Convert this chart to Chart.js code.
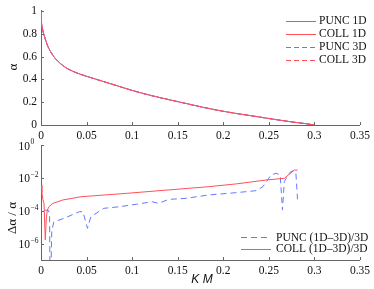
<!DOCTYPE html>
<html>
<head>
<meta charset="utf-8">
<script src="https://cdn.jsdelivr.net/npm/chart.js@4.4.0/dist/chart.umd.min.js"></script>
<style>
  body { margin: 0; background: #fff; width: 374px; height: 289px; overflow: hidden; position: relative; }
  canvas { position: absolute; left: 0; }
  #topChart { top: 0; }
  #botChart { top: 130px; }
</style>
</head>
<body>
<canvas id="topChart" width="374" height="145"></canvas>
<canvas id="botChart" width="374" height="159"></canvas>
<script>
/* eslint-disable no-undef */

const kmTop = [0, 0.0005, 0.001, 0.002, 0.004, 0.007, 0.01, 0.015, 0.02, 0.025, 0.03, 0.04, 0.05, 0.06, 0.075, 0.09, 0.1, 0.12, 0.15, 0.175, 0.2, 0.225, 0.25, 0.275, 0.29, 0.3]
const alphaValues = [0.99, 0.9, 0.87, 0.83, 0.77, 0.7, 0.65, 0.59, 0.548, 0.515, 0.49, 0.454, 0.427, 0.402, 0.365, 0.328, 0.303, 0.26, 0.205, 0.16, 0.12, 0.088, 0.057, 0.027, 0.012, 0.0]
const topLabels = ["PUNC 1D", "COLL 1D", "PUNC 3D", "COLL 3D"]

// Graphique du bas : écart relatif (1D-3D)/3D
const kmColl = [0, 0.001, 0.002, 0.0033, 0.0047, 0.0058, 0.0069, 0.009, 0.013, 0.024, 0.044, 0.0946, 0.184, 0.2145, 0.247, 0.267, 0.278, 0.2815]
const errColl = [3.7e-3, 1.3e-3, 5e-4, 2.8e-4, 1.7e-6, 3.2e-5, 1.1e-4, 1.8e-4, 2.8e-4, 4.5e-4, 7.1e-4, 1.15e-3, 2.9e-3, 4.3e-3, 7.4e-3, 9.3e-3, 3e-2, 2.95e-2]
const kmPunc = [0.004, 0.0084, 0.0094, 0.0099, 0.0108, 0.0118, 0.0141, 0.0257, 0.042, 0.046, 0.051, 0.0547, 0.069, 0.086, 0.105, 0.122, 0.129, 0.14, 0.158, 0.184, 0.2145, 0.236, 0.2435, 0.2525, 0.258, 0.2625, 0.265, 0.267, 0.273, 0.2768, 0.2797, 0.2815]
const errPunc = [1.1e-4, 1.05e-4, 5e-5, 1e-8, 1e-8, 6e-6, 2.1e-5, 3.5e-5, 8.7e-5, 8.7e-5, 8.5e-6, 4.3e-5, 1.4e-4, 1.75e-4, 2.5e-4, 3.5e-4, 2.8e-4, 4.9e-4, 5.6e-4, 9.1e-4, 1.26e-3, 1.66e-3, 2.9e-3, 1.5e-2, 1.9e-2, 1.5e-2, 1.1e-4, 5.9e-3, 2.1e-2, 2.75e-2, 2e-2, 5e-4]
const botLabels = ["PUNC (1D\u20133D)/3D", "COLL (1D\u20133D)/3D"]

const logTickValues = [1, 1e-2, 1e-4, 1e-6]
const logTickExponents = ["0", "\u22122", "\u22124", "\u22126"]

const BLUE = "rgb(100,120,255)"
const RED = "rgb(255,80,90)"
const SERIF = '"Liberation Serif", "Times New Roman", serif'

function points(xs, ys) {
  return xs.map((x, i) => ({ x: x, y: ys[i] }))
}

function fmtTick(v) {
  return String(Number(v.toFixed(2)))
}

// Petites graduations vers l'intérieur, façon MATLAB
function drawInwardTicks(chart) {
  const ctx = chart.ctx
  const a = chart.chartArea
  const sx = chart.scales.x
  const sy = chart.scales.y
  ctx.save()
  ctx.strokeStyle = "#666"
  ctx.lineWidth = 1
  sx.ticks.forEach((t) => {
    const px = Math.round(sx.getPixelForValue(t.value)) + 0.5
    ctx.beginPath()
    ctx.moveTo(px, a.bottom)
    ctx.lineTo(px, a.bottom - 3)
    ctx.stroke()
  })
  sy.ticks.forEach((t) => {
    const py = Math.round(sy.getPixelForValue(t.value)) + 0.5
    ctx.beginPath()
    ctx.moveTo(a.left, py)
    ctx.lineTo(a.left + 3, py)
    ctx.stroke()
  })
  ctx.restore()
}

function drawLegend(chart, x0, x1, xt, ys) {
  const ctx = chart.ctx
  ctx.save()
  ctx.font = "11.5px " + SERIF
  ctx.textBaseline = "middle"
  ctx.fillStyle = "#111"
  chart.data.datasets.forEach((ds, i) => {
    const y = Math.round(ys[i]) + 0.5
    ctx.strokeStyle = ds.borderColor
    ctx.lineWidth = 1
    ctx.setLineDash(ds.borderDash || [])
    ctx.beginPath()
    ctx.moveTo(x0, y)
    ctx.lineTo(x1, y)
    ctx.stroke()
    ctx.setLineDash([])
    ctx.fillText(ds.label, xt, ys[i] + 0.5)
  })
  ctx.restore()
}

function drawVerticalTitle(ctx, text, x, y, font) {
  ctx.save()
  ctx.translate(x, y)
  ctx.rotate(-Math.PI / 2)
  ctx.font = font
  ctx.fillStyle = "#111"
  ctx.textAlign = "center"
  ctx.textBaseline = "middle"
  ctx.fillText(text, 0, 0)
  ctx.restore()
}

const commonX = {
  type: "linear",
  min: 0,
  max: 0.35,
  ticks: {
    stepSize: 0.05,
    padding: 4,
    color: "#111",
    font: { family: SERIF, size: 11.5 },
    maxRotation: 0,
    callback: fmtTick,
  },
  grid: { drawOnChartArea: false, drawTicks: false },
  border: { color: "#666" },
}

// Graphique du haut
new Chart(document.getElementById("topChart").getContext("2d"), {
  type: "line",
  data: {
    datasets: [
      { label: topLabels[0], data: points(kmTop, alphaValues), borderColor: BLUE, order: 3 },
      { label: topLabels[1], data: points(kmTop, alphaValues), borderColor: RED, order: 0 },
      { label: topLabels[2], data: points(kmTop, alphaValues), borderColor: BLUE, borderDash: [5, 3], order: 2 },
      { label: topLabels[3], data: points(kmTop, alphaValues), borderColor: RED, borderDash: [5, 3], order: 1 },
    ],
  },
  options: {
    responsive: false,
    animation: false,
    layout: { padding: { top: 9, right: 11, left: 0, bottom: 0 } },
    elements: { point: { radius: 0 }, line: { borderWidth: 1, cubicInterpolationMode: "monotone" } },
    plugins: { legend: { display: false }, tooltip: { enabled: false } },
    scales: {
      x: Object.assign({}, commonX, {
        afterFit: (s) => { s.height = 20 },
      }),
      y: {
        min: 0,
        max: 1,
        ticks: {
          stepSize: 0.2,
          padding: 4,
          color: "#111",
          font: { family: SERIF, size: 11.5 },
          callback: fmtTick,
        },
        grid: { drawOnChartArea: false, drawTicks: false },
        border: { color: "#666" },
        afterFit: (s) => { s.width = 41 },
      },
    },
  },
  plugins: [{
    id: "decorTop",
    afterDraw(chart) {
      drawInwardTicks(chart)
      drawLegend(chart, 286, 316, 319, [20.5, 33.5, 46.5, 59.5])
      drawVerticalTitle(chart.ctx, "\u03b1", 14, 67, "13px " + SERIF)
    },
  }],
})

// Graphique du bas (échelle logarithmique)
new Chart(document.getElementById("botChart").getContext("2d"), {
  type: "line",
  data: {
    datasets: [
      { label: botLabels[0], data: points(kmPunc, errPunc), borderColor: BLUE, borderDash: [6, 4], order: 1 },
      { label: botLabels[1], data: points(kmColl, errColl), borderColor: RED, order: 0 },
    ],
  },
  options: {
    responsive: false,
    animation: false,
    layout: { padding: { top: 15, right: 11, left: 0, bottom: 0 } },
    elements: { point: { radius: 0 }, line: { borderWidth: 1, tension: 0 } },
    plugins: { legend: { display: false }, tooltip: { enabled: false } },
    scales: {
      x: Object.assign({}, commonX, {
        afterFit: (s) => { s.height = 29 },
      }),
      y: {
        type: "logarithmic",
        min: 1e-7,
        max: 1,
        ticks: { display: false },
        afterBuildTicks: (s) => { s.ticks = logTickValues.map((v) => ({ value: v })) },
        grid: { drawOnChartArea: false, drawTicks: false },
        border: { color: "#666" },
        afterFit: (s) => { s.width = 41 },
      },
    },
  },
  plugins: [{
    id: "decorBot",
    afterDraw(chart) {
      const ctx = chart.ctx
      const sy = chart.scales.y
      drawInwardTicks(chart)
      drawLegend(chart, 241, 271, 276, [107, 118.5])
      drawVerticalTitle(ctx, "\u0394\u03b1 / \u03b1", 13, 88, "13px " + SERIF)

      // Étiquettes 10^n
      ctx.save()
      ctx.fillStyle = "#111"
      ctx.textBaseline = "middle"
      logTickValues.forEach((v, i) => {
        const py = sy.getPixelForValue(v)
        ctx.font = "11.5px " + SERIF
        ctx.textAlign = "right"
        ctx.fillText("10", 30, py + 1.5)
        ctx.font = "7.5px " + SERIF
        ctx.textAlign = "left"
        ctx.fillText(logTickExponents[i], 30.5, py - 3)
      })
      ctx.restore()

      // Titre de l'axe x
      ctx.save()
      ctx.font = "italic 12px \"Liberation Sans\", Arial, sans-serif"
      ctx.fillStyle = "#111"
      ctx.textAlign = "center"
      ctx.textBaseline = "middle"
      ctx.fillText("K M", 202, 150)
      ctx.restore()
    },
  }],
})
</script>
</body>
</html>
